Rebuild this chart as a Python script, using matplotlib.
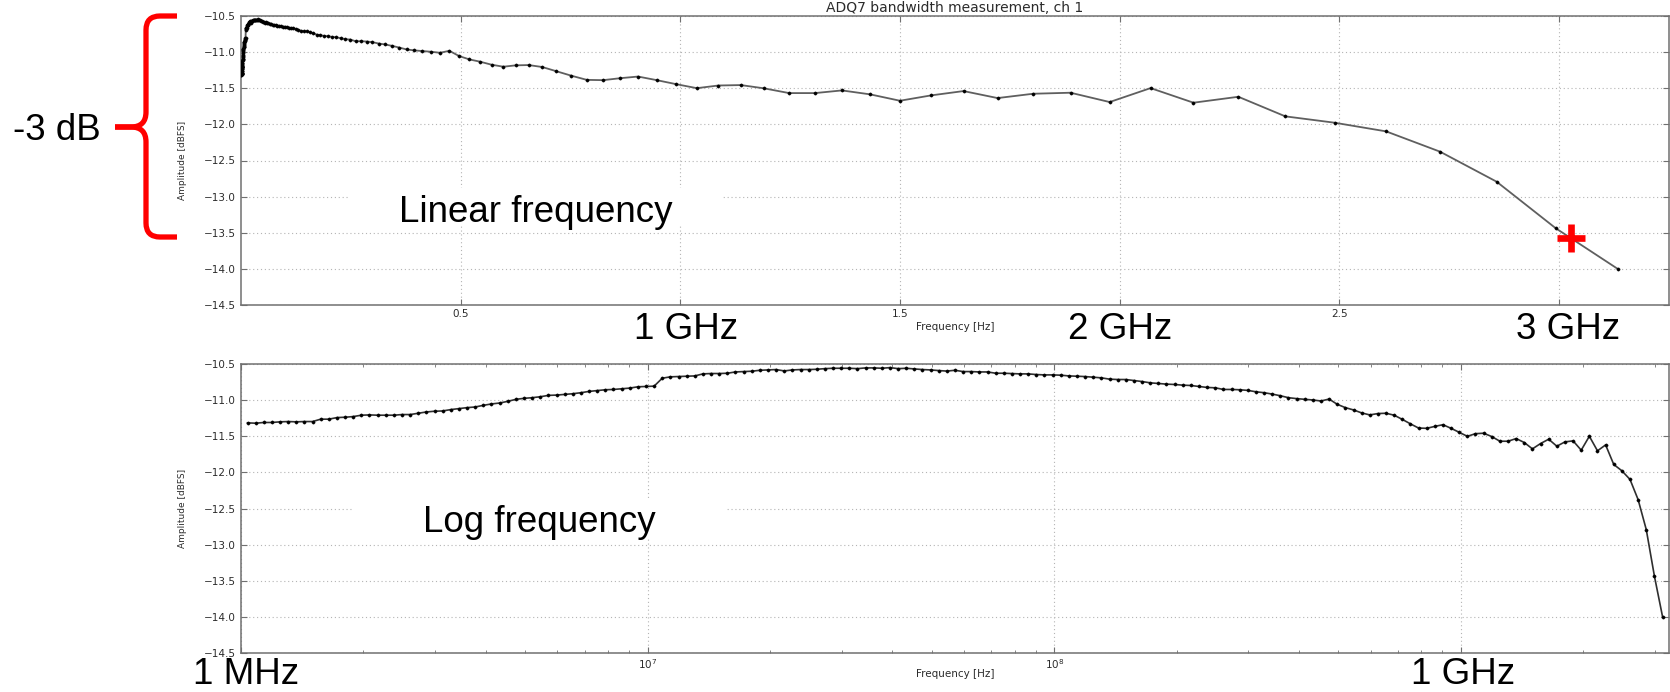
import matplotlib
matplotlib.use("Agg")
import matplotlib.pyplot as plt
from matplotlib.patches import Rectangle, PathPatch
from matplotlib.path import Path
from matplotlib.ticker import FixedLocator, FuncFormatter, LogLocator, NullFormatter
import math

# ---------------- data ----------------
freq_mhz = [
    1.0375, 1.0864, 1.1376, 1.1912, 1.2474, 1.3062, 1.3677, 1.4322, 1.4997, 1.5704,
    1.6444, 1.7219, 1.8030, 1.8880, 1.9770, 2.0701, 2.1677, 2.2699, 2.3768, 2.4889,
    2.6062, 2.7290, 2.8576, 2.9923, 3.1333, 3.2810, 3.4356, 3.5975, 3.7670, 3.9446,
    4.1305, 4.3251, 4.5290, 4.7424, 4.9659, 5.2000, 5.4450, 5.7016, 5.9704, 6.2517,
    6.5464, 6.8549, 7.1779, 7.5162, 7.8704, 8.2414, 8.6298, 9.0365, 9.4624, 9.9083,
    10.375, 10.864, 11.376, 11.912, 12.474, 13.062, 13.677, 14.322, 14.997, 15.704,
    16.444, 17.219, 18.030, 18.880, 19.770, 20.701, 21.677, 22.699, 23.768, 24.889,
    26.062, 27.290, 28.576, 29.923, 31.333, 32.810, 34.356, 35.975, 37.670, 39.446,
    41.305, 43.251, 45.290, 47.424, 49.659, 52.000, 54.450, 57.016, 59.704, 62.517,
    65.464, 68.549, 71.779, 75.162, 78.704, 82.414, 86.298, 90.365, 94.624, 99.083,
    103.75, 108.64, 113.76, 119.12, 124.74, 130.62, 136.77, 143.22, 149.97, 157.04,
    164.44, 172.19, 180.30, 188.80, 197.70, 207.01, 216.77, 226.99, 237.68, 248.89,
    260.62, 272.90, 285.76, 299.23, 313.33, 328.10, 343.56, 359.75, 376.70, 394.46,
    413.05, 432.51, 452.90, 474.24, 496.59, 520.00, 544.50, 570.16, 597.04, 625.17,
    654.64, 685.49, 717.79, 751.62, 787.04, 824.14, 862.98, 903.65, 946.24, 990.83,
    1037.5, 1086.4, 1137.6, 1191.2, 1247.4, 1306.2, 1367.7, 1432.2, 1499.7, 1570.4,
    1644.4, 1721.9, 1803.0, 1888.0, 1977.0, 2070.1, 2167.7, 2269.9, 2376.8, 2488.9,
    2606.2, 2729.0, 2857.6, 2992.3, 3133.3,
]

amp_dbfs = [
    -11.312, -11.317, -11.307, -11.307, -11.298, -11.294, -11.298, -11.294, -11.294, -11.261,
    -11.261, -11.239, -11.234, -11.225, -11.206, -11.202, -11.206, -11.206, -11.206, -11.197,
    -11.197, -11.179, -11.161, -11.151, -11.147, -11.128, -11.115, -11.101, -11.092, -11.069,
    -11.050, -11.037, -11.014, -10.986, -10.972, -10.963, -10.950, -10.931, -10.927, -10.917,
    -10.908, -10.894, -10.876, -10.865, -10.853, -10.849, -10.839, -10.830, -10.812, -10.807,
    -10.803, -10.693, -10.674, -10.670, -10.665, -10.661, -10.633, -10.628, -10.628, -10.624,
    -10.606, -10.601, -10.596, -10.583, -10.578, -10.573, -10.592, -10.578, -10.573, -10.573,
    -10.569, -10.560, -10.555, -10.555, -10.555, -10.560, -10.550, -10.550, -10.555, -10.546,
    -10.560, -10.555, -10.564, -10.573, -10.578, -10.587, -10.594, -10.583, -10.601, -10.601,
    -10.606, -10.606, -10.624, -10.624, -10.628, -10.633, -10.633, -10.642, -10.647, -10.647,
    -10.651, -10.661, -10.665, -10.670, -10.679, -10.688, -10.706, -10.711, -10.711, -10.725,
    -10.739, -10.757, -10.766, -10.775, -10.780, -10.789, -10.794, -10.807, -10.821, -10.826,
    -10.849, -10.849, -10.853, -10.862, -10.881, -10.894, -10.913, -10.936, -10.963, -10.976,
    -10.986, -10.995, -11.009, -10.982, -11.055, -11.101, -11.133, -11.174, -11.202, -11.183,
    -11.179, -11.206, -11.264, -11.326, -11.384, -11.388, -11.361, -11.338, -11.388, -11.444,
    -11.499, -11.462, -11.456, -11.502, -11.567, -11.567, -11.530, -11.585, -11.673, -11.599,
    -11.539, -11.636, -11.576, -11.562, -11.691, -11.498, -11.700, -11.618, -11.889, -11.977,
    -12.097, -12.378, -12.793, -13.438, -14.000,
]

title_text = "ADQ7 bandwidth measurement, ch 1"
xlabel_text = "Frequency [Hz]"
ylabel_text = "Amplitude [dBFS]"
ytick_vals = [-14.5, -14.0, -13.5, -13.0, -12.5, -12.0, -11.5, -11.0, -10.5]
lin_xticks_ghz = [0.5, 1.0, 1.5, 2.0, 2.5, 3.0]
lin_hidden_ghz = [1.0, 2.0, 3.0]          # tick labels covered by slide text
log_hidden_exp = [6, 9]                   # 10^6 and 10^9 covered by slide text
lin_xlim_ghz = (0.0, 3.25)
log_xlim_hz = (1e6, 3.25e9)

# -3 dB marker (annotation)
cross_freq_ghz = 3.027
cross_db = -13.57

freq_hz = [f * 1e6 for f in freq_mhz]

# ---------------- figure ----------------
W, H = 1670, 692
fig = plt.figure(figsize=(W / 100, H / 100), dpi=100)
fig.patch.set_facecolor("white")


def fx(x):
    return x / W


def fy(y):
    return 1 - y / H


AX_L, AX_R = 241, 1669
ax1 = fig.add_axes([fx(AX_L), fy(305), (AX_R - AX_L) / W, (305 - 16) / H])
ax2 = fig.add_axes([fx(AX_L), fy(652.7), (AX_R - AX_L) / W, (652.7 - 364.3) / H])

label_col = "#2b2b2b"
spine_col = "#707070"

for ax in (ax1, ax2):
    ax.set_ylim(-14.5, -10.5)
    ax.yaxis.set_major_locator(FixedLocator(ytick_vals))
    ax.grid(True, which="major", linestyle=(0, (1, 2.5)), color="#b4b4b4", linewidth=0.8)
    for s in ax.spines.values():
        s.set_color(spine_col)
        s.set_linewidth(1.1)
    ax.tick_params(which="both", direction="in", top=True, right=True,
                   colors=spine_col, labelcolor=label_col, labelsize=7.5)
    ax.tick_params(which="major", length=4, width=0.8)
    ax.tick_params(which="minor", length=2.2, width=0.6)
    ax.tick_params(axis="y", pad=4)
    ax.tick_params(axis="x", pad=3)
    ax.set_ylabel(ylabel_text, fontsize=6.5, color=label_col)
    ax.yaxis.set_label_coords(-0.0378, 0.5)
    ax.set_xlabel(xlabel_text, fontsize=7.5, color=label_col)


def lin_fmt(v, p):
    g = v / 1e9
    if any(abs(g - h) < 1e-6 for h in lin_hidden_ghz):
        return ""
    return f"{g:.1f}"


def log_fmt(v, p):
    if v <= 0:
        return ""
    e = int(round(math.log10(v)))
    if e in log_hidden_exp:
        return ""
    return r"$\mathdefault{10^{%d}}$" % e


# linear panel
ax1.plot(freq_hz, amp_dbfs, color="#5f5f5f", lw=1.3, marker="o", ms=2.4,
         mfc="black", mec="black", mew=0.2, zorder=3)
ax1.set_xlim(lin_xlim_ghz[0] * 1e9, lin_xlim_ghz[1] * 1e9)
ax1.xaxis.set_major_locator(FixedLocator([v * 1e9 for v in lin_xticks_ghz]))
ax1.xaxis.set_major_formatter(FuncFormatter(lin_fmt))
ax1.set_title(title_text, fontsize=10, color=label_col, pad=3)
ax1.xaxis.set_label_coords(0.5, -0.0588)

# log panel
ax2.plot(freq_hz, amp_dbfs, color="#2f2f2f", lw=1.2, marker="o", ms=2.4,
         mfc="black", mec="black", mew=0.2, zorder=3)
ax2.set_xscale("log")
ax2.set_xlim(*log_xlim_hz)
ax2.xaxis.set_major_locator(LogLocator(base=10))
ax2.xaxis.set_major_formatter(FuncFormatter(log_fmt))
ax2.xaxis.set_minor_locator(LogLocator(base=10, subs=[2, 3, 4, 5, 6, 7, 8, 9]))
ax2.xaxis.set_minor_formatter(NullFormatter())
ax2.xaxis.set_label_coords(0.5, -0.0565)

# -3 dB cross
ax1.plot([cross_freq_ghz * 1e9], [cross_db], marker="+", ms=20, mew=4.8,
         color="#ff0000", clip_on=False, zorder=12)

# ---------------- overlay (slide annotations) ----------------
ov_font = "Liberation Sans"
ov_size = 26.5


def white_box(x0, y0, x1, y1):
    r = Rectangle((fx(x0), fy(y1)), (x1 - x0) / W, (y1 - y0) / H,
                  transform=fig.transFigure, facecolor="white", edgecolor="none", zorder=10)
    fig.add_artist(r)


def ov_text(x, y, s):
    fig.text(fx(x), fy(y), s, fontsize=ov_size, family=ov_font, color="black",
             ha="left", va="baseline", zorder=11)


white_box(348, 188, 722, 226)
ov_text(399, 222, "Linear frequency")

white_box(354, 498, 727, 537)
ov_text(423, 532, "Log frequency")

for x0, s in [(634, "1 GHz"), (1068, "2 GHz"), (1516, "3 GHz")]:
    ov_text(x0, 339, s)

ov_text(193, 684, "1 MHz")
ov_text(1411, 684, "1 GHz")

ov_text(12.7, 140, "-3 dB")

# red brace
M, L, C = Path.MOVETO, Path.LINETO, Path.CURVE3
for pts in (
    [(177, 16), (160, 16), (146, 16), (146, 30), (146, 112), (146, 127), (131, 127), (115, 127)],
    [(177, 237), (160, 237), (146, 237), (146, 223), (146, 142), (146, 127), (131, 127), (115, 127)],
):
    verts = [(fx(x), fy(y)) for x, y in pts]
    path = Path(verts, [M, L, C, C, L, C, C, L])
    fig.add_artist(PathPatch(path, transform=fig.transFigure, facecolor="none",
                             edgecolor="#ff0000", lw=3.8, capstyle="butt",
                             joinstyle="round", zorder=12))

fig.savefig("out.png", dpi=100, facecolor="white")
